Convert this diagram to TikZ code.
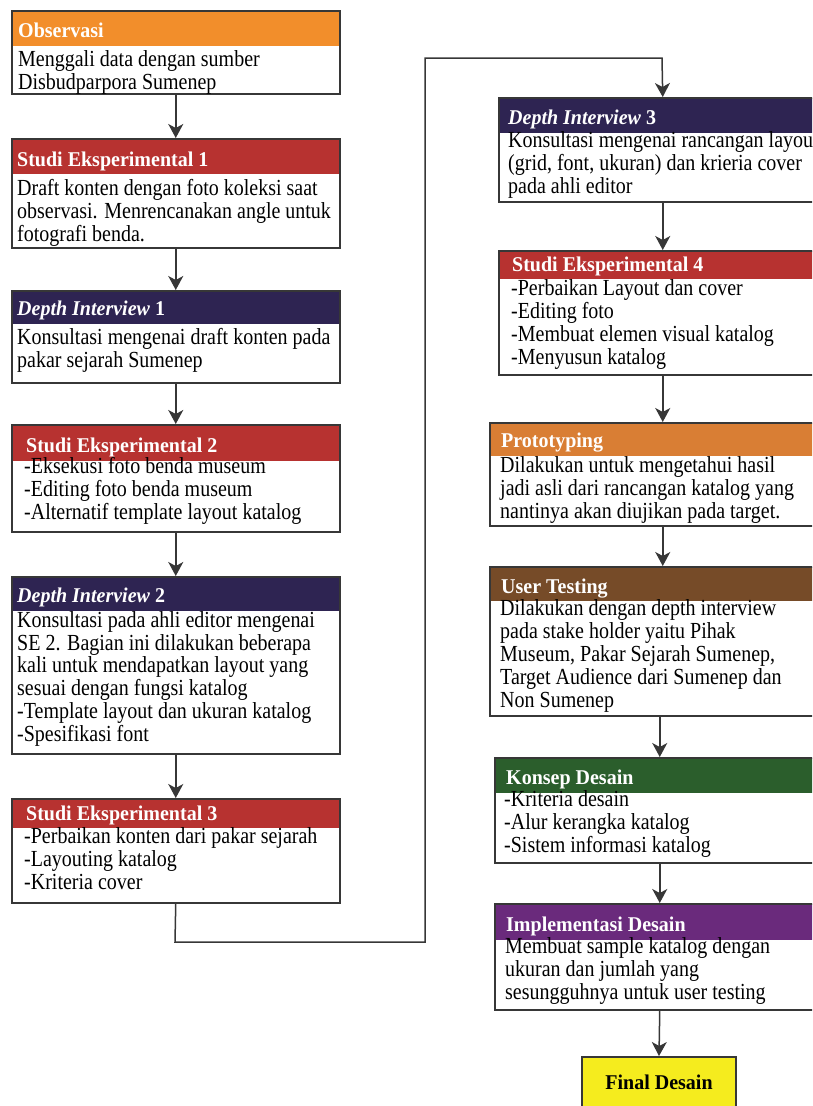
\documentclass[tikz,border=0pt]{standalone}
\usepackage{fontspec}
\setmainfont{Liberation Serif}
\usetikzlibrary{arrows.meta,calc}
\definecolor{obsorange}{RGB}{242,142,43}
\definecolor{sered}{RGB}{183,50,48}
\definecolor{dinavy}{RGB}{46,36,82}
\definecolor{protoorange}{RGB}{217,126,52}
\definecolor{utbrown}{RGB}{118,75,40}
\definecolor{kgreen}{RGB}{43,94,44}
\definecolor{impurple}{RGB}{106,42,124}
\definecolor{finalyellow}{RGB}{245,236,30}
\definecolor{bordercol}{RGB}{55,55,55}
\newcommand\bodyfnt{\fontsize{20}{19.8}\selectfont}
\newcommand\headfnt{\fontsize{20}{21}\selectfont\bfseries}
% slight vertical stretch of text, as in the reference
\newcommand\vs[1]{\scalebox{1}[1.05]{#1}}
\newcommand\bt[1]{\scalebox{1}[1.15]{\vbox{\baselineskip=19.83pt\lineskiplimit=-100pt\lineskip=0pt #1}}}
\newcommand\fl[1]{\hbox{\rule{0pt}{14pt}#1}}
\newcommand\li[1]{\hbox{#1}}
\tikzset{
  flowbox/.style 2 args={draw=bordercol, line width=1.5pt, fill=white, inner sep=0pt, anchor=north west,
    path picture={\fill[#1] (path picture bounding box.north west) rectangle ([yshift=-#2]path picture bounding box.north east);}},
  headtxt/.style={anchor=base west, inner sep=0pt, text=white, font=\headfnt},
  bodytxt/.style={anchor=north west, inner sep=0pt, font=\bodyfnt},
  arr/.style={draw=bordercol, line width=1.5pt, -{Stealth[length=14pt, width=15pt, inset=4pt]}},
}
\begin{document}
\begin{tikzpicture}[x=1pt,y=-1pt]
\useasboundingbox (0,0) rectangle (812,1106);
\clip (0,0) rectangle (812,1106);

% ---------- left column ----------
\node[flowbox={obsorange}{35pt}, minimum width=328pt, minimum height=83pt] (obs) at (11,10) {};
\node[headtxt] (obsh) at (18,37) {\vs{Observasi}};
\node[bodytxt] (obsb) at (18,50) {\bt{\fl{Menggali data dengan sumber}\li{Disbudparpora Sumenep}}};

\node[flowbox={sered}{35pt}, minimum width=328pt, minimum height=109pt] (se1) at (11,138) {};
\node[headtxt] (se1h) at (17,166) {\vs{Studi Eksperimental 1}};
\node[bodytxt] (se1b) at (17,179) {\bt{\fl{Draft konten dengan foto koleksi saat}\li{observasi. Menrencanakan angle untuk}\li{fotografi benda.}}};

\node[flowbox={dinavy}{33pt}, minimum width=328pt, minimum height=92pt] (di1) at (11,290) {};
\node[headtxt] (di1h) at (17,315) {\vs{\textit{Depth Interview} 1}};
\node[bodytxt] (di1b) at (17,328.5) {\bt{\fl{Konsultasi mengenai draft konten pada}\li{pakar sejarah Sumenep}}};

\node[flowbox={sered}{36pt}, minimum width=328pt, minimum height=107pt] (se2) at (11,424) {};
\node[headtxt] (se2h) at (26,452) {\vs{Studi Eksperimental 2}};
\node[bodytxt] (se2b) at (24,457.5) {\bt{\fl{-Eksekusi foto benda museum}\li{-Editing foto benda museum}\li{-Alternatif template layout katalog}}};

\node[flowbox={dinavy}{34pt}, minimum width=328pt, minimum height=177pt] (di2) at (11,576) {};
\node[headtxt] (di2h) at (17,602) {\vs{\textit{Depth Interview} 2}};
\node[bodytxt] (di2b) at (17,611) {\bt{\fl{Konsultasi pada ahli editor mengenai}\li{SE 2. Bagian ini dilakukan beberapa}\li{kali untuk mendapatkan layout yang}\li{sesuai dengan fungsi katalog}\li{-Template layout dan ukuran katalog}\li{-Spesifikasi font}}};

\node[flowbox={sered}{29pt}, minimum width=328pt, minimum height=104pt] (se3) at (11,798) {};
\node[headtxt] (se3h) at (26,820) {\vs{Studi Eksperimental 3}};
\node[bodytxt] (se3b) at (24,827.5) {\bt{\fl{-Perbaikan konten dari pakar sejarah}\li{-Layouting katalog}\li{-Kriteria cover}}};

% ---------- right column ----------
\node[flowbox={dinavy}{35pt}, minimum width=328pt, minimum height=104pt] (di3) at (498,97) {};
\node[headtxt] (di3h) at (508,124) {\vs{\textit{Depth Interview} 3}};
\node[bodytxt] (di3b) at (508,131.5) {\bt{\fl{Konsultasi mengenai rancangan layout}\li{(grid, font, ukuran) dan krieria cover}\li{pada ahli editor}}};

\node[flowbox={sered}{28pt}, minimum width=328pt, minimum height=124pt] (se4) at (498,250) {};
\node[headtxt] (se4h) at (512,271) {\vs{Studi Eksperimental 4}};
\node[bodytxt] (se4b) at (511,279.5) {\bt{\fl{-Perbaikan Layout dan cover}\li{-Editing foto}\li{-Membuat elemen visual katalog}\li{-Menyusun katalog}}};

\node[flowbox={protoorange}{33pt}, minimum width=346pt, minimum height=103pt] (proto) at (489,422) {};
\node[headtxt] (protoh) at (501,447) {\vs{Prototyping}};
\node[bodytxt] (protob) at (500,456.5) {\bt{\fl{Dilakukan untuk mengetahui hasil}\li{jadi asli dari rancangan katalog yang}\li{nantinya akan diujikan pada target.}}};

\node[flowbox={utbrown}{34pt}, minimum width=346pt, minimum height=149pt] (ut) at (489,566) {};
\node[headtxt] (uth) at (501,593) {\vs{User Testing}};
\node[bodytxt] (utb) at (500,599.5) {\bt{\fl{Dilakukan dengan depth interview}\li{pada stake holder yaitu Pihak}\li{Museum, Pakar Sejarah Sumenep,}\li{Target Audience dari Sumenep dan}\li{Non Sumenep}}};

\node[flowbox={kgreen}{35pt}, minimum width=330pt, minimum height=105pt] (konsep) at (494,757) {};
\node[headtxt] (konseph) at (506,784) {\vs{Konsep Desain}};
\node[bodytxt] (konsepb) at (504,790.5) {\bt{\fl{-Kriteria desain}\li{-Alur kerangka katalog}\li{-Sistem informasi katalog}}};

\node[flowbox={impurple}{36pt}, minimum width=330pt, minimum height=106pt] (impl) at (494,903) {};
\node[headtxt] (implh) at (506,931) {\vs{Implementasi Desain}};
\node[bodytxt] (implb) at (505,937.5) {\bt{\fl{Membuat sample katalog dengan}\li{ukuran dan jumlah yang}\li{sesungguhnya untuk user testing}}};

\node[draw=bordercol, line width=1.5pt, fill=finalyellow, inner sep=0pt, anchor=north,
      minimum width=154pt, minimum height=90pt] (final) at (659,1056) {};
\node[inner sep=0pt, font=\headfnt] (finalt) at (659,1082) {\vs{Final Desain}};

% ---------- connectors ----------
\draw[arr] (obs.south) -- (se1.north);
\draw[arr] (se1.south) -- (di1.north);
\draw[arr] (di1.south) -- (se2.north);
\draw[arr] (se2.south) -- (di2.north);
\draw[arr] (di2.south) -- (se3.north);

\coordinate (c1) at (175,942);
\coordinate (c2) at (425,942);
\coordinate (c3) at (425,58);
\coordinate (c4) at (662,58);
\draw[arr] (se3.south) -- (c1) -- (c2) -- (c3) -- (c4) -- (di3.north);

\draw[arr] (di3.south) -- (se4.north);
\draw[arr] (se4.south) -- (proto.north);
\draw[arr] (proto.south) -- (ut.north);
\draw[arr] (ut.south -| konsep.north) -- (konsep.north);
\draw[arr] (konsep.south) -- (impl.north);
\draw[arr] (impl.south) -- (final.north);
\end{tikzpicture}
\end{document}
